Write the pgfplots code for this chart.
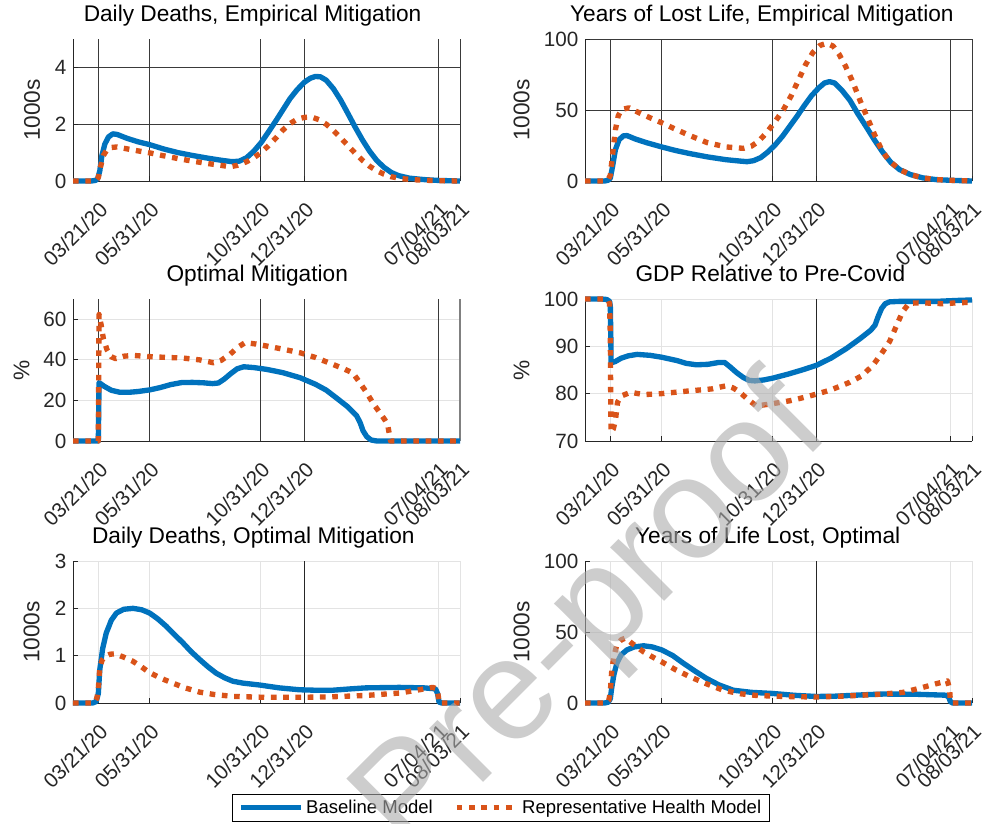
\documentclass[border=0pt]{standalone}
\usepackage{pgfplots}
\pgfplotsset{compat=1.18}
\usepackage{fontspec}
\setmainfont{Liberation Sans}
\definecolor{mblue}{HTML}{0072BD}
\definecolor{morange}{HTML}{D95319}
\definecolor{axgray}{HTML}{262626}
\definecolor{lightgrid}{HTML}{E3E3E3}
\definecolor{darkgrid}{HTML}{3A3A3A}
\newcommand{\tickfont}{\fontsize{15.5}{18}\selectfont}
\newcommand{\titlefont}{\fontsize{17}{20}\selectfont}
\newcommand{\labelfont}{\fontsize{17}{20}\selectfont}
\newcommand{\legendfont}{\fontsize{13.9}{16}\selectfont}
\pgfplotsset{
  panel/.style={
    width=290.25pt, height=106.5pt, scale only axis,
    anchor=south west,
    xmin=-35, xmax=500,
    xtick={0,71,224,285,470,500},
    xticklabels={03/21/20,05/31/20,10/31/20,12/31/20,07/04/21,08/03/21},
    xticklabel style={inner sep=1pt, xshift=0pt, yshift=-12.9pt, rotate=45, anchor=north east, font=\tickfont, text=axgray},
    yticklabel style={font=\tickfont, text=axgray, xshift=-1.5pt},
    axis x line*=bottom, axis y line*=left,
    every outer x axis line/.append style={-},
    every outer y axis line/.append style={-},
    axis line style={color=axgray, line width=0.6pt},
    tick style={color=axgray, line width=0.6pt},
    tick align=inside,
    major tick length=4pt,
    xmajorgrids, ymajorgrids,
    title style={font=\titlefont, anchor=base, yshift=7.5pt},
    ylabel style={font=\labelfont, anchor=center, text=axgray},
    /pgf/number format/assume math mode=true,
    clip=false,
  },
  darkgrid/.style={major grid style={color=darkgrid, line width=0.6pt}},
  lgrid/.style={major grid style={color=lightgrid, line width=0.6pt}},
  bl/.style={color=mblue, line width=4pt, line join=round},
  or/.style={color=morange, line width=4pt, line join=round, dash pattern=on 4.2pt off 5pt},
}
\begin{document}
\begin{tikzpicture}
\useasboundingbox (0,0) rectangle (738.75pt,-618pt);

% Panel 1
\begin{axis}[panel, darkgrid, at={(54.75pt,-135.75pt)},
  ymin=0, ymax=5, ytick={0,2,4},
  title={Daily Deaths, Empirical Mitigation}, title style={at={(0.464,1)}},
  ylabel={1000s}, ylabel style={at={(axis description cs:-0.106,0.5)}}]
\addplot[bl] coordinates {(-35,0) (-10,0) (-4,0.02) (-1,0.08) (2,0.35) (5,0.9) (9,1.3) (14,1.55) (20,1.66) (26,1.64) (40,1.5) (55,1.38) (71,1.28) (90,1.13) (110,1.0) (130,0.9) (150,0.81) (170,0.73) (185,0.68) (195,0.7) (205,0.82) (215,1.05) (225,1.35) (235,1.72) (245,2.1) (255,2.5) (265,2.9) (275,3.22) (285,3.48) (293,3.62) (300,3.68) (307,3.67) (315,3.55) (325,3.25) (335,2.85) (345,2.38) (355,1.9) (365,1.45) (375,1.05) (385,0.72) (395,0.48) (405,0.3) (415,0.19) (430,0.1) (450,0.05) (470,0.02) (500,0)};
\addplot[or] coordinates {(-35,0) (-8,0) (-3,0.03) (0,0.12) (3,0.5) (7,0.9) (12,1.1) (18,1.18) (26,1.2) (40,1.13) (55,1.06) (71,0.99) (90,0.89) (110,0.79) (130,0.7) (150,0.62) (170,0.55) (182,0.5) (192,0.55) (205,0.68) (215,0.82) (225,1.0) (235,1.24) (245,1.5) (255,1.79) (265,2.02) (275,2.18) (285,2.24) (295,2.25) (305,2.16) (315,2.0) (325,1.78) (335,1.52) (345,1.25) (355,0.98) (365,0.73) (375,0.52) (385,0.36) (395,0.24) (405,0.15) (420,0.08) (440,0.04) (470,0.01) (500,0)};
\end{axis}

% Panel 2
\begin{axis}[panel, darkgrid, at={(438.75pt,-135.75pt)},
  ymin=0, ymax=100, ytick={0,50,100},
  title={Years of Lost Life, Empirical Mitigation}, title style={at={(0.457,1)}},
  ylabel={1000s}, ylabel style={at={(axis description cs:-0.164,0.5)}}]
\addplot[bl] coordinates {(-35,0) (-8,0) (-3,0.5) (0,2) (3,10) (7,22) (12,29) (18,31.8) (23,32) (35,29.5) (50,27) (71,24) (90,21.5) (110,19.3) (134,17) (160,15) (180,14) (189,13.6) (198,14.3) (208,16.5) (218,20.5) (228,25.5) (238,31.5) (248,38.5) (258,45.5) (268,53) (278,60) (288,65.5) (296,69) (303,70) (310,69) (320,64) (331,57) (342,47.5) (354,38) (365,29) (377,20) (388,13) (400,8) (415,4.5) (432,2.2) (450,1) (470,0.5) (500,0)};
\addplot[or] coordinates {(-35,0) (-8,0) (-3,1) (0,4) (3,18) (7,36) (11,46) (16,50.5) (26,51.5) (40,48) (55,44.5) (71,41) (90,36.5) (110,32) (134,27) (160,24) (184,23) (195,24.5) (205,28) (216,34) (228,42) (239,50) (250,60) (260,71) (270,82) (280,90.5) (290,95.5) (299,97) (308,95) (316,89.5) (325,81) (335,70) (345,57) (355,45) (365,33) (375,22) (385,14.5) (400,8) (415,4.5) (432,2.2) (450,1) (470,0.5) (500,0)};
\end{axis}

% Panel 3
\begin{axis}[panel, lgrid, at={(54.75pt,-330.75pt)},
  ymin=0, ymax=70, ytick={0,20,40,60},
  title={Optimal Mitigation}, title style={at={(0.476,1)}},
  ylabel={\%}, ylabel style={at={(axis description cs:-0.133,0.5)}}]
\addplot[forget plot, color=darkgrid, line width=0.6pt] coordinates {(0,0) (0,70)};
\addplot[forget plot, color=darkgrid, line width=0.6pt] coordinates {(71,0) (71,70)};
\addplot[forget plot, color=darkgrid, line width=0.6pt] coordinates {(224,0) (224,70)};
\addplot[forget plot, color=darkgrid, line width=0.6pt] coordinates {(285,0) (285,70)};
\addplot[forget plot, color=darkgrid, line width=0.6pt] coordinates {(470,0) (470,70)};
\addplot[forget plot, color=gray, line width=0.8pt] coordinates {(500,0) (500,70)};
\addplot[bl] coordinates {(-35,0) (0,0) (0.5,14) (1,28.8) (8,27) (18,25) (30,24) (42,24) (55,24.4) (71,25.2) (85,26.3) (100,27.8) (115,28.8) (130,28.9) (145,28.7) (158,28.3) (166,28.6) (174,30.5) (183,33.2) (192,35.6) (201,36.6) (215,36.2) (233,35.3) (255,33.7) (279,31.2) (300,28) (315,25.1) (330,21) (345,16.8) (357,12.5) (362,9) (366,5) (371,2.2) (377,0.5) (385,0) (500,0)};
\addplot[or] coordinates {(-35,0) (0,0) (0.5,30) (1,62.4) (4,57) (7,50.5) (12,45) (18,41.5) (24,40.6) (35,41.8) (48,42.2) (71,41.6) (95,41.2) (117,40.9) (140,40) (159,38.6) (170,39.8) (182,42.7) (192,46) (203,48.5) (218,47.8) (233,46.8) (255,45.3) (279,43.5) (300,41.2) (324,37.8) (340,35.5) (352,33.5) (362,28.5) (371,23.8) (380,18.5) (389,14) (396,10.5) (400,8) (402,4) (404,0) (500,0)};
\end{axis}

% Panel 4
\begin{axis}[panel, lgrid, at={(438.75pt,-330.75pt)},
  ymin=70, ymax=100, ytick={70,80,90,100},
  title={GDP Relative to Pre-Covid}, title style={at={(0.479,1)}},
  ylabel={\%}, ylabel style={at={(axis description cs:-0.164,0.5)}}]
\addplot[forget plot, color=axgray, line width=0.6pt] coordinates {(285,70) (285,100)};
\addplot[bl] coordinates {(-35,100) (-12,100) (-5,99.9) (-1,99.5) (0,98.5) (0.7,92) (1,86.5) (7,86.8) (15,87.5) (25,88) (37,88.3) (55,88.1) (71,87.7) (92,87) (105,86.4) (119,86.1) (135,86.2) (150,86.6) (158,86.6) (166,85.6) (175,84.4) (184,83.4) (192,82.8) (200,82.7) (212,82.9) (225,83.3) (245,84.1) (265,85) (285,86) (305,87.5) (326,89.5) (345,91.6) (360,93.4) (366,94.5) (370,96.2) (375,98) (380,99) (386,99.4) (400,99.5) (450,99.5) (480,99.7) (500,99.8)};
\addplot[or] coordinates {(-35,100) (-10,100) (-3,99.8) (-1,99) (0,92) (0.5,80) (1,71.8) (4,72.5) (7,74.3) (10,78.2) (15,79.5) (28,80.3) (46,79.8) (70,80) (110,80.6) (140,81) (161,81.7) (170,81.2) (179,80.3) (190,78.8) (202,77.4) (225,77.9) (248,78.5) (265,79.1) (285,79.9) (305,80.8) (331,82.4) (348,83.8) (363,86) (375,88.5) (386,91) (396,94.5) (404,97.3) (413,99.1) (430,99.2) (460,99) (480,99.2) (500,99.3)};
\end{axis}

% Panel 5
\begin{axis}[panel, lgrid, at={(54.75pt,-527.25pt)},
  ymin=0, ymax=3, ytick={0,1,2,3},
  title={Daily Deaths, Optimal Mitigation}, title style={at={(0.466,1)}},
  ylabel={1000s}, ylabel style={at={(axis description cs:-0.107,0.5)}},
  legend columns=2,
  legend style={at={(1.106,-0.7376)}, anchor=center, draw=black, line width=0.6pt,
    font=\legendfont, inner xsep=4pt, inner ysep=2.5pt,
    /tikz/every even column/.append style={column sep=14pt}},
  legend image code/.code={\draw[#1] (0pt,0pt) -- (45pt,0pt);}]
\addplot[forget plot, color=axgray, line width=0.6pt] coordinates {(285,0) (285,3)};
\addplot[bl] coordinates {(-35,0) (-8,0) (-3,0.03) (0,0.2) (2,0.7) (6,1.15) (11,1.48) (18,1.75) (25,1.9) (35,1.98) (48,2.0) (60,1.97) (71,1.9) (82,1.78) (94,1.62) (105,1.45) (117,1.27) (128,1.09) (140,0.92) (152,0.76) (163,0.63) (175,0.53) (186,0.46) (200,0.42) (223,0.38) (250,0.32) (278,0.28) (300,0.27) (324,0.27) (350,0.3) (370,0.32) (416,0.33) (450,0.32) (466,0.3) (469,0.2) (471,0.02) (475,0) (500,0)};
\addlegendentry{Baseline Model}
\addplot[or] coordinates {(-35,0) (-6,0) (-2,0.1) (0,0.3) (2,0.74) (5,0.9) (9,0.98) (16,1.03) (23,1.04) (35,0.97) (48,0.88) (60,0.76) (71,0.64) (87,0.52) (103,0.42) (120,0.32) (140,0.23) (160,0.18) (186,0.14) (230,0.12) (278,0.12) (320,0.13) (370,0.16) (416,0.21) (444,0.28) (462,0.33) (468,0.3) (470,0.15) (471,0) (500,0)};
\addlegendentry{Representative Health Model}
\end{axis}

% Panel 6
\begin{axis}[panel, lgrid, at={(438.75pt,-527.25pt)},
  ymin=0, ymax=100, ytick={0,50,100},
  title={Years of Life Lost, Optimal}, title style={at={(0.472,1)}},
  ylabel={1000s}, ylabel style={at={(axis description cs:-0.164,0.5)}}]
\addplot[forget plot, color=axgray, line width=0.6pt] coordinates {(285,0) (285,100)};
\addplot[bl] coordinates {(-35,0) (-8,0) (-3,0.5) (0,3) (2,11) (5,20) (9,28) (15,34) (23,37.4) (33,39.5) (46,40.3) (58,39.5) (71,37.4) (86,33.5) (101,28) (117,22.5) (133,17.3) (150,12.8) (170,9) (195,7.5) (225,6.7) (255,5.4) (285,4.6) (310,4.8) (331,5.3) (355,5.9) (377,6.3) (420,6.2) (464,5.5) (468,4) (470,1) (473,0) (500,0)};
\addplot[or] coordinates {(-35,0) (-6,0) (-2,2) (0,8) (2,23) (5,33) (9,41) (15,44.5) (21,45.7) (30,42) (46,36) (58,32.5) (71,29) (90,23.5) (110,18.5) (133,13.5) (156,9) (180,6.5) (202,5.3) (240,4.6) (285,4.2) (330,5) (377,6.3) (405,7.5) (432,11) (450,13.5) (466,15.6) (469,10) (470,2) (472,0) (500,0)};
\end{axis}

% Watermark
\node[rotate=45, text=black!33, opacity=0.6, font=\fontsize{108}{108}\selectfont] at (446pt,-464pt) {Pre-proof};
\end{tikzpicture}
\end{document}
